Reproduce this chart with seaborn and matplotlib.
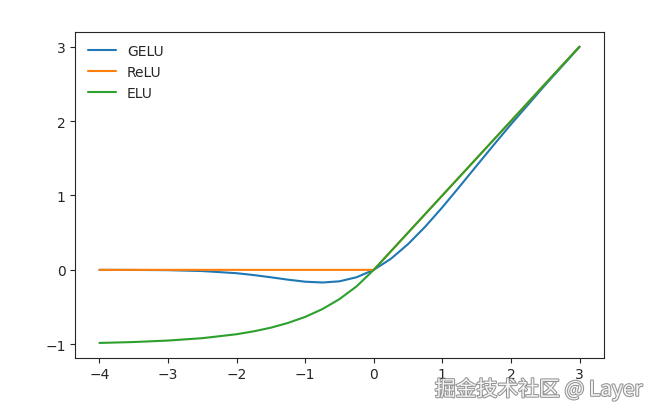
import matplotlib
matplotlib.use("Agg")
import matplotlib.pyplot as plt
import matplotlib.patheffects as pe
import seaborn as sns

# values
x_gelu = [-4, -3.5, -3, -2.5, -2, -1.75, -1.5, -1.25, -1, -0.75, -0.5, -0.25, 0,
          0.25, 0.5, 0.75, 1, 1.25, 1.5, 1.75, 2, 2.5, 3]
y_gelu = [0.0, -0.001, -0.004, -0.016, -0.045, -0.07, -0.10, -0.132, -0.159, -0.17,
          -0.154, -0.099, 0.0, 0.149, 0.346, 0.58, 0.841, 1.118, 1.4, 1.68, 1.955, 2.485, 2.996]
x_relu = [-4, 0, 3]
y_relu = [0, 0, 3]
x_elu = [-4, -3.5, -3, -2.5, -2, -1.75, -1.5, -1.25, -1, -0.75, -0.5, -0.25, 0, 3]
y_elu = [-0.982, -0.97, -0.95, -0.918, -0.865, -0.826, -0.777, -0.713, -0.632,
         -0.528, -0.393, -0.221, 0.0, 3.0]

sns.set_style("ticks")
fig, ax = plt.subplots(figsize=(6.56, 4.10), dpi=100)
sns.lineplot(x=x_gelu, y=y_gelu, ax=ax, label="GELU", color="#1f77b4")
sns.lineplot(x=x_relu, y=y_relu, ax=ax, label="ReLU", color="#ff7f0e")
sns.lineplot(x=x_elu, y=y_elu, ax=ax, label="ELU", color="#2ca02c")

ax.set_xticks(range(-4, 4))
ax.set_yticks(range(-1, 4))
ax.set_yticklabels(["\u22121", "0", "1", "2", "3"])
ax.set_xticklabels(["\u22124", "\u22123", "\u22122", "\u22121", "0", "1", "2", "3"])
ax.legend(loc="upper left", frameon=False)
fig.subplots_adjust(left=0.115, right=0.92, top=0.92, bottom=0.125)

fig.text(0.98, 0.02, "掘金技术社区 @ Layer", ha="right", va="bottom", fontsize=15,
         color="white", alpha=0.9, family=["Noto Sans CJK SC", "DejaVu Sans"],
         path_effects=[pe.withStroke(linewidth=1.5, foreground="#888888")])

fig.savefig("out.png", dpi=100)
